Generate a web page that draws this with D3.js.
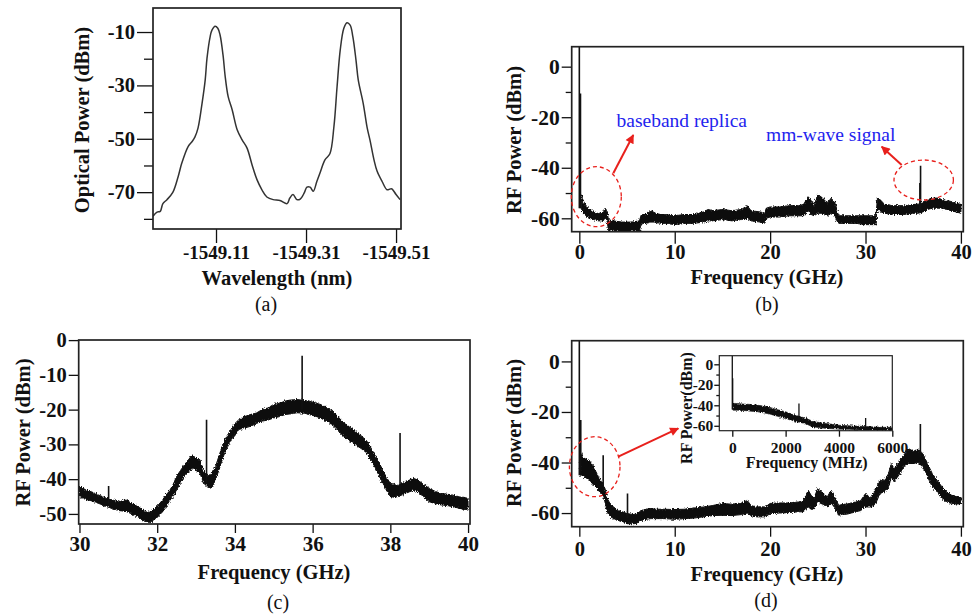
<!DOCTYPE html>
<html><head><meta charset="utf-8">
<script src="https://cdn.jsdelivr.net/npm/d3@7"></script>
<style>
body{margin:0;background:#fff}
svg text{font-family:"Liberation Serif","Times New Roman",serif}
</style></head><body>
<svg id="c" width="974" height="616"></svg>
<script>
// ---------- Panel (a): optical spectrum ----------
const aWave = [-1548.970,-1548.979,-1548.986,-1548.992,-1549.001,-1549.014,-1549.026,-1549.034,-1549.048,-1549.057,-1549.063,-1549.070,-1549.079,-1549.086,-1549.090,-1549.097,-1549.101,-1549.108,-1549.114,-1549.119,-1549.126,-1549.130,-1549.137,-1549.146,-1549.157,-1549.168,-1549.179,-1549.190,-1549.201,-1549.212,-1549.223,-1549.237,-1549.252,-1549.268,-1549.274,-1549.281,-1549.290,-1549.297,-1549.306,-1549.312,-1549.319,-1549.326,-1549.334,-1549.341,-1549.352,-1549.363,-1549.372,-1549.379,-1549.386,-1549.394,-1549.401,-1549.408,-1549.414,-1549.421,-1549.426,-1549.437,-1549.446,-1549.452,-1549.461,-1549.468,-1549.479,-1549.490,-1549.497,-1549.501,-1549.510,-1549.519];
const aPower = [-79.0,-77.5,-77.2,-74.3,-72.8,-70.1,-64.1,-59.1,-52.9,-51.0,-49.4,-46.0,-36.7,-27.9,-19.8,-11.7,-9.3,-7.8,-8.6,-11.1,-19.2,-26.1,-34.2,-39.2,-46.6,-50.4,-53.5,-59.7,-65.3,-69.1,-71.8,-72.8,-73.1,-74.3,-72.2,-70.9,-72.8,-72.6,-70.3,-68.1,-68.1,-69.7,-66.0,-62.8,-57.9,-55.6,-45.4,-30.4,-16.7,-8.6,-6.5,-7.4,-11.7,-20.5,-27.9,-36.7,-46.0,-50.4,-57.9,-62.2,-66.0,-69.1,-68.8,-68.8,-70.9,-72.8];
const aXTicks = [-1549.11,-1549.31,-1549.51];
const aYTicks = [-10,-30,-50,-70];
const aYMinor = [-20,-40,-60,-80];

// ---------- Panel (b): RF spectrum 0-40 GHz ----------
const bFreq = [0.2,0.4,0.7,1.0,1.5,2.0,2.5,2.7,2.9,3.05,3.5,4.5,5.5,6.3,6.5,7.0,7.5,8.0,8.5,9.0,10,11,12,13,13.5,14,15,16,17,17.6,18,19,19.4,19.6,20,21,22,23,23.5,24,24.3,24.6,25,25.5,26,26.4,26.8,27.0,27.2,28,29,30,31.1,31.25,31.5,32,33,34,35,35.5,36,36.5,37,37.5,38,38.5,39,39.5,40];
const bHi = [-50.5,-53,-55,-56,-57.5,-58,-58,-56,-57,-60.5,-61,-61.5,-61.5,-61,-58.5,-58.5,-57,-58,-58.5,-58.5,-59,-58.5,-58.5,-57.5,-56.5,-57,-56.5,-57,-56.5,-55,-57,-57.5,-58,-56,-55.5,-55.5,-55,-55,-54.5,-51.5,-53,-55,-50.5,-52,-54,-52,-54,-57,-59,-59,-59,-59,-59,-52,-52.5,-54.5,-55,-55,-54.5,-54.5,-53.5,-53,-52,-52,-52.5,-53,-53.5,-54,-54.5];
const bLo = [-56,-58,-59,-60,-60.5,-61,-61,-60,-61,-64.5,-65,-65,-65,-65,-62,-62,-61.5,-61.5,-62,-62,-62.5,-62,-62,-61.5,-61,-61,-60.5,-61,-60.5,-60,-61,-61.5,-62,-60,-59.5,-59.5,-59,-59,-59,-57,-58.5,-59,-58,-58,-59,-58,-59,-61,-62,-62,-62,-62.5,-62.5,-57,-57,-58,-58.5,-58.5,-58,-58,-57.5,-56.5,-56,-56,-56,-56.5,-57,-57.5,-58];
const bSpikeF = [0.0,0.12,35.7,35.77];
const bSpikeTop = [7.9,-10.6,-46,-39.2];
const bSpikeBase = [-56,-56,-57,-57];

// ---------- Panel (c): RF spectrum 30-40 GHz ----------
const cFreq = [30.0,30.15,30.3,30.5,30.7,30.85,31.0,31.2,31.35,31.5,31.6,31.7,31.8,31.9,32.0,32.1,32.2,32.3,32.4,32.5,32.6,32.7,32.8,32.9,33.0,33.1,33.2,33.3,33.4,33.5,33.6,33.7,33.8,33.9,34.0,34.1,34.25,34.4,34.55,34.7,34.85,35.0,35.15,35.3,35.45,35.6,35.75,35.9,36.05,36.2,36.35,36.5,36.65,36.8,36.95,37.1,37.25,37.4,37.5,37.6,37.7,37.8,37.9,38.0,38.1,38.2,38.35,38.5,38.6,38.7,38.85,39.0,39.15,39.3,39.45,39.6,39.75,39.9,40.0];
const cHi = [-42.1,-43,-43.6,-44.6,-45.5,-46,-46.5,-46,-47,-47.9,-48.6,-49.4,-49.5,-48.8,-47.8,-46.5,-45,-43.6,-41.8,-39.2,-37.5,-35.9,-34.5,-33,-34,-34.4,-37.8,-39,-38.5,-36.4,-33,-29.6,-27.5,-25.7,-24,-22.9,-22,-21.4,-21,-20,-19.5,-18.5,-18.2,-17.5,-17.2,-17.1,-17.3,-17.5,-18,-18.5,-19.3,-20.4,-22,-23.8,-25,-26.2,-27.5,-29.1,-31,-33,-35,-37.3,-39.5,-41.2,-41.5,-41.8,-41,-40.2,-39.8,-40.2,-41.5,-42.6,-43.5,-44.1,-44.3,-44.6,-45,-45.3,-45.5];
const cLo = [-45,-45.8,-46.2,-47,-47.9,-48.5,-49,-49.3,-50,-50.8,-51.5,-52.3,-52.5,-51.8,-51,-49.9,-48.5,-46.5,-45,-43.1,-41,-39.2,-38,-36.8,-37.5,-38.3,-41.2,-42.3,-42.6,-40.2,-37,-33.5,-31,-28.6,-27.5,-25.7,-25.3,-24.8,-24,-23.3,-23,-22.4,-22,-21.4,-21.2,-20.9,-21,-21.4,-21.8,-22.4,-23.3,-24.3,-26,-27.7,-29,-30.1,-31.2,-32.5,-34.5,-36.4,-38.8,-41.2,-43.2,-45,-45.2,-45,-44.3,-43.6,-43.2,-43.6,-45,-46.5,-47,-47.4,-47.6,-47.9,-48.3,-48.7,-48.9];
const cSpikeF = [30.75,33.27,35.73,38.25];
const cSpikeTop = [-42,-22.9,-4.5,-26.7];
const cSpikeBase = [-47,-41,-20,-44];

// ---------- Panel (d): RF spectrum 0-40 GHz ----------
const dFreq = [0.1,0.3,0.6,1.0,1.3,1.6,2.0,2.3,2.6,3.0,3.3,3.6,4.0,4.5,5.0,5.5,6.0,6.3,6.6,7.0,7.5,8.0,9.0,10,11,12,13,14,15,16,17,17.6,18,18.5,19,19.5,20,21,22,23,23.5,24,24.3,24.6,25,25.5,26,26.4,26.8,27.2,27.6,28,28.5,29,29.5,30,30.5,31,31.5,32,32.4,32.7,33,33.3,33.6,34,34.5,35,35.5,36,36.5,37,37.5,38,38.5,39,39.5,40];
const dHi = [-36,-37.8,-38.5,-39,-40.5,-42.5,-45.7,-47.5,-49,-54.9,-56.5,-57.6,-58.9,-59.5,-60.2,-60.5,-60.5,-59.5,-59,-58.5,-58.2,-58.5,-58.5,-58.6,-58.5,-58,-57.6,-57,-56.2,-56.5,-56,-55,-57,-57.6,-57.5,-57.6,-56.2,-56,-56,-55.6,-55,-51,-53,-54,-50.3,-52,-53.5,-51,-54,-57,-56.5,-56.5,-56,-55.6,-55,-52.3,-54,-51,-47,-47,-44.5,-40.4,-42.5,-41,-39,-37.1,-34.5,-35.5,-35,-36.4,-40.4,-44.4,-47,-49.6,-51.6,-52.9,-53.5,-53.5];
const dLo = [-45,-45,-46,-46.5,-48,-49.5,-51,-52.5,-54.3,-60.2,-61.5,-62.2,-62.8,-63.5,-64.2,-64.2,-64.2,-63,-62.8,-62.5,-62.2,-62.2,-62.2,-62.5,-62.2,-62,-61.5,-61,-60.9,-61,-60.6,-60,-61,-61.5,-61.5,-61.5,-60.2,-60,-59.8,-59.5,-59.5,-57.6,-58.5,-58.5,-55.6,-56.5,-57.5,-56,-58,-60.9,-60.5,-60.5,-60,-59.5,-59,-57.6,-57.6,-56.9,-52.3,-51.6,-50,-45.7,-47.5,-46,-44.4,-41.7,-40.4,-40.4,-40,-41.7,-45.7,-49.6,-51.6,-54.3,-55.6,-56.2,-56.4,-56.4];
const dSpikeF = [0.0,0.15,2.5,5.05,35.75];
const dSpikeTop = [8.2,-23.2,-37.1,-52.3,-24.8];
const dSpikeBase = [-45,-45,-52,-62,-38];

// ---------- Inset of (d): 0-6000 MHz ----------
const iFreq = [30,200,400,600,800,1000,1200,1400,1600,1800,2000,2200,2400,2600,2800,3000,3300,3600,4000,4400,4800,5200,5600,6000];
const iHi = [-38.2,-38.2,-38.8,-39,-39.5,-40,-41,-42,-43.5,-45,-46.4,-48,-50,-51.5,-53,-55.5,-57,-58,-59.5,-60,-60.5,-61,-61.5,-61.5];
const iLo = [-44.8,-44.8,-45,-45.5,-46,-46.4,-47.5,-48.5,-50,-51.5,-53,-54.5,-56,-57,-58.5,-61,-62,-62.7,-63.3,-63.5,-64,-64,-64,-64];
const iSpikeF = [0,15,2500,5000];
const iSpikeTop = [8.4,-13.7,-38.2,-52.3];
const iSpikeBase = [-44,-44,-55,-63];

const rfXTicks = [0,10,20,30,40];
const rfYTicks = [0,-20,-40,-60];
const rfYMinor = [-10,-30,-50];
const cXTicks = [30,32,34,36,38,40];
const cYTicks = [0,-10,-20,-30,-40,-50];
const iXTicks = [0,2000,4000,6000];

const labels = {a:"(a)", b:"(b)", c:"(c)", d:"(d)"};
const annB = ["baseband replica","mm-wave signal"];

// ================= drawing =================
const svg = d3.select("#c");
const defs = svg.append("defs");
defs.append("marker").attr("id","arr").attr("viewBox","0 0 10 10").attr("refX",9).attr("refY",5)
  .attr("markerWidth",10).attr("markerHeight",9).attr("markerUnits","userSpaceOnUse").attr("orient","auto")
  .append("path").attr("d","M0,0L10,5L0,10Z").attr("fill","#e8201c");
// rough edge filter for noisy spectrum bands (style only)
const flt = defs.append("filter").attr("id","rough").attr("x","-3%").attr("y","-20%").attr("width","106%").attr("height","140%");
flt.append("feTurbulence").attr("type","fractalNoise").attr("baseFrequency","0.9 0.5").attr("numOctaves",2).attr("seed",4).attr("result","n");
flt.append("feDisplacementMap").attr("in","SourceGraphic").attr("in2","n").attr("scale",4).attr("xChannelSelector","R").attr("yChannelSelector","G");

const fmtInt = d => String(d);
let clipN = 0;
function panel(o){
  const x = d3.scaleLinear().domain(o.xd).range(o.xr);
  const y = d3.scaleLinear().domain(o.yd).range(o.yr);
  const id = "clip" + (clipN++);
  defs.append("clipPath").attr("id", id).append("rect")
    .attr("x", o.xr[0]).attr("y", o.yr[0]).attr("width", o.xr[1]-o.xr[0]).attr("height", o.yr[1]-o.yr[0]);
  const g = svg.append("g");
  if (o.bg) g.append("rect").attr("x", o.xr[0]).attr("y", o.yr[0]).attr("width", o.xr[1]-o.xr[0]).attr("height", o.yr[1]-o.yr[0]).attr("fill","#fff");
  const ya = g.append("g").attr("class","ya").attr("transform", `translate(${o.xr[0]},0)`)
    .call(d3.axisLeft(y).tickValues(o.yt).tickSize(o.ytl).tickPadding(o.ytp).tickFormat(o.yfmt || fmtInt));
  if (o.ym) g.append("g").attr("transform", `translate(${o.xr[0]},0)`)
    .call(d3.axisLeft(y).tickValues(o.ym).tickSize(o.ytm).tickFormat(""));
  const xa = g.append("g").attr("class","xa").attr("transform", `translate(0,${o.yr[1]})`)
    .call(d3.axisBottom(x).tickValues(o.xt).tickSize(o.xtl).tickPadding(o.xtp).tickFormat(o.xfmt || fmtInt));
  g.selectAll(".domain").remove();
  g.selectAll(".tick line").attr("stroke","#111").attr("stroke-width",1.3);
  g.selectAll(".tick text").attr("font-weight","bold").attr("fill","#111")
    .attr("font-family",'"Liberation Serif","Times New Roman",serif');
  ya.selectAll(".tick text").attr("font-size", o.yfs);
  xa.selectAll(".tick text").attr("font-size", o.xfs);
  const plot = g.append("g").attr("clip-path", `url(#${id})`);
  if (o.band) {
    const rows = o.band.f.map((f,i)=>({f, hi:o.band.hi[i], lo:o.band.lo[i]}));
    plot.append("g").attr("filter", "url(#rough)").append("path").datum(rows)
      .attr("d", d3.area().x(d=>x(d.f)).y0(d=>y(d.lo)).y1(d=>y(d.hi)))
      .attr("fill","#111").attr("stroke","#111").attr("stroke-width", o.bandStroke || 1);
  }
  if (o.spikes) {
    const s = o.spikes.f.map((f,i)=>({f, t:o.spikes.top[i], b:o.spikes.base[i]}));
    plot.selectAll(".spk").data(s).join("line")
      .attr("x1", d=>x(d.f)).attr("x2", d=>x(d.f)).attr("y1", d=>y(d.b)).attr("y2", d=>y(d.t))
      .attr("stroke","#111").attr("stroke-width", o.spikeW || 1.6);
  }
  if (o.line) {
    const rows = o.line.x.map((v,i)=>({v, p:o.line.y[i]}));
    plot.append("path").datum(rows)
      .attr("d", d3.line().x(d=>x(d.v)).y(d=>y(d.p)).curve(d3.curveCatmullRom.alpha(0.5)))
      .attr("fill","none").attr("stroke","#333").attr("stroke-width",1.5);
  }
  g.append("rect").attr("x", o.xr[0]).attr("y", o.yr[0]).attr("width", o.xr[1]-o.xr[0]).attr("height", o.yr[1]-o.yr[0])
    .attr("fill","none").attr("stroke","#222").attr("stroke-width", o.frameW || 1.7);
  g.append("text").attr("x", o.xTitle[0]).attr("y", o.xTitle[1]).attr("text-anchor","middle")
    .attr("font-size", o.tfs).attr("font-weight","bold").attr("fill","#111").text(o.xTitle[2]);
  g.append("text").attr("transform", `translate(${o.yTitle[0]},${o.yTitle[1]}) rotate(-90)`).attr("text-anchor","middle")
    .attr("dominant-baseline","central").attr("font-size", o.tfs).attr("font-weight","bold").attr("fill","#111").text(o.yTitle[2]);
  if (o.label) g.append("text").attr("x", o.label[0]).attr("y", o.label[1]).attr("text-anchor","middle")
    .attr("font-size", 20).attr("fill","#111").text(o.label[2]);
  return {x, y, g};
}

// (a)
panel({xd:[-1548.97,-1549.521], xr:[153,401], yd:[-1,-83.8], yr:[8,229],
  xt:aXTicks, xtl:14, xtp:3, xfmt:d=>d.toFixed(2),
  yt:aYTicks, ytl:16, ytp:2, ym:aYMinor, ytm:9,
  xfs:19, yfs:20.5, tfs:20.5,
  line:{x:aWave, y:aPower},
  xTitle:[277,285,"Wavelength (nm)"], yTitle:[82,120,"Optical Power (dBm)"], label:[266,311,labels.a]});

// (b)
panel({xd:[-0.8,40.25], xr:[571.7,963.3], yd:[7.9,-65.3], yr:[46.7,231.7],
  xt:rfXTicks, xtl:12, xtp:1,
  yt:rfYTicks, ytl:10, ytp:2, ym:rfYMinor, ytm:6,
  xfs:20.5, yfs:21.5, tfs:20.5,
  band:{f:bFreq, hi:bHi, lo:bLo}, spikes:{f:bSpikeF, top:bSpikeTop, base:bSpikeBase},
  xTitle:[767,284,"Frequency (GHz)"], yTitle:[514,140,"RF Power (dBm)"], label:[767,311,labels.b]});
svg.append("text").attr("x",616.5).attr("y",127).attr("font-size",19.5).attr("fill","#2323ee").text(annB[0]);
svg.append("text").attr("x",766).attr("y",141).attr("font-size",19.5).attr("fill","#2323ee").text(annB[1]);
svg.append("ellipse").attr("cx",596.3).attr("cy",196.7).attr("rx",25).attr("ry",30)
  .attr("fill","none").attr("stroke","#e8201c").attr("stroke-width",1.3).attr("stroke-dasharray","4,3");
svg.append("ellipse").attr("cx",923.7).attr("cy",180).attr("rx",29.7).attr("ry",20)
  .attr("fill","none").attr("stroke","#e8201c").attr("stroke-width",1.3).attr("stroke-dasharray","4,3");
svg.append("line").attr("x1",613.3).attr("y1",173.3).attr("x2",633.3).attr("y2",135)
  .attr("stroke","#e8201c").attr("stroke-width",2).attr("marker-end","url(#arr)");
svg.append("line").attr("x1",901.7).attr("y1",165).attr("x2",881.7).attr("y2",146.7)
  .attr("stroke","#e8201c").attr("stroke-width",2).attr("marker-end","url(#arr)");

// (c)
panel({xd:[29.98,40.05], xr:[78.7,470], yd:[0.03,-52.9], yr:[340,524],
  xt:cXTicks, xtl:9, xtp:3,
  yt:cYTicks, ytl:10, ytp:2,
  xfs:21, yfs:20.5, tfs:20.5,
  band:{f:cFreq, hi:cHi, lo:cLo}, spikes:{f:cSpikeF, top:cSpikeTop, base:cSpikeBase},
  xTitle:[274,579,"Frequency (GHz)"], yTitle:[22.7,432.5,"RF Power (dBm)"], label:[278,609,labels.c]});

// (d)
panel({xd:[-0.8,40.25], xr:[571.7,963.3], yd:[8.2,-65.4], yr:[340.7,526.7],
  xt:rfXTicks, xtl:10, xtp:5,
  yt:rfYTicks, ytl:10, ytp:2, ym:rfYMinor, ytm:6,
  xfs:20.5, yfs:21.5, tfs:20.5,
  band:{f:dFreq, hi:dHi, lo:dLo}, spikes:{f:dSpikeF, top:dSpikeTop, base:dSpikeBase},
  xTitle:[767,581,"Frequency (GHz)"], yTitle:[514,433,"RF Power (dBm)"], label:[766,607,labels.d]});
svg.append("ellipse").attr("cx",594.7).attr("cy",466.7).attr("rx",25.3).attr("ry",30)
  .attr("fill","none").attr("stroke","#e8201c").attr("stroke-width",1.3).attr("stroke-dasharray","4,3");
svg.append("line").attr("x1",618.3).attr("y1",456.7).attr("x2",678.3).attr("y2",428.3)
  .attr("stroke","#e8201c").attr("stroke-width",2).attr("marker-end","url(#arr)");

// inset
panel({xd:[-487,6000], xr:[719.3,892.3], yd:[8.4,-64.8], yr:[355.7,430.7], bg:true,
  xt:iXTicks, xtl:6, xtp:5,
  yt:rfYTicks, ytl:5, ytp:1, ym:rfYMinor, ytm:3,
  xfs:15.5, yfs:15.5, tfs:16, frameW:1.2, bandStroke:0.6, spikeW:1.3,
  band:{f:iFreq, hi:iHi, lo:iLo}, spikes:{f:iSpikeF, top:iSpikeTop, base:iSpikeBase},
  xTitle:[806.7,468,"Frequency (MHz)"], yTitle:[686.7,408,"RF Power(dBm)"]});
</script>
</body></html>
